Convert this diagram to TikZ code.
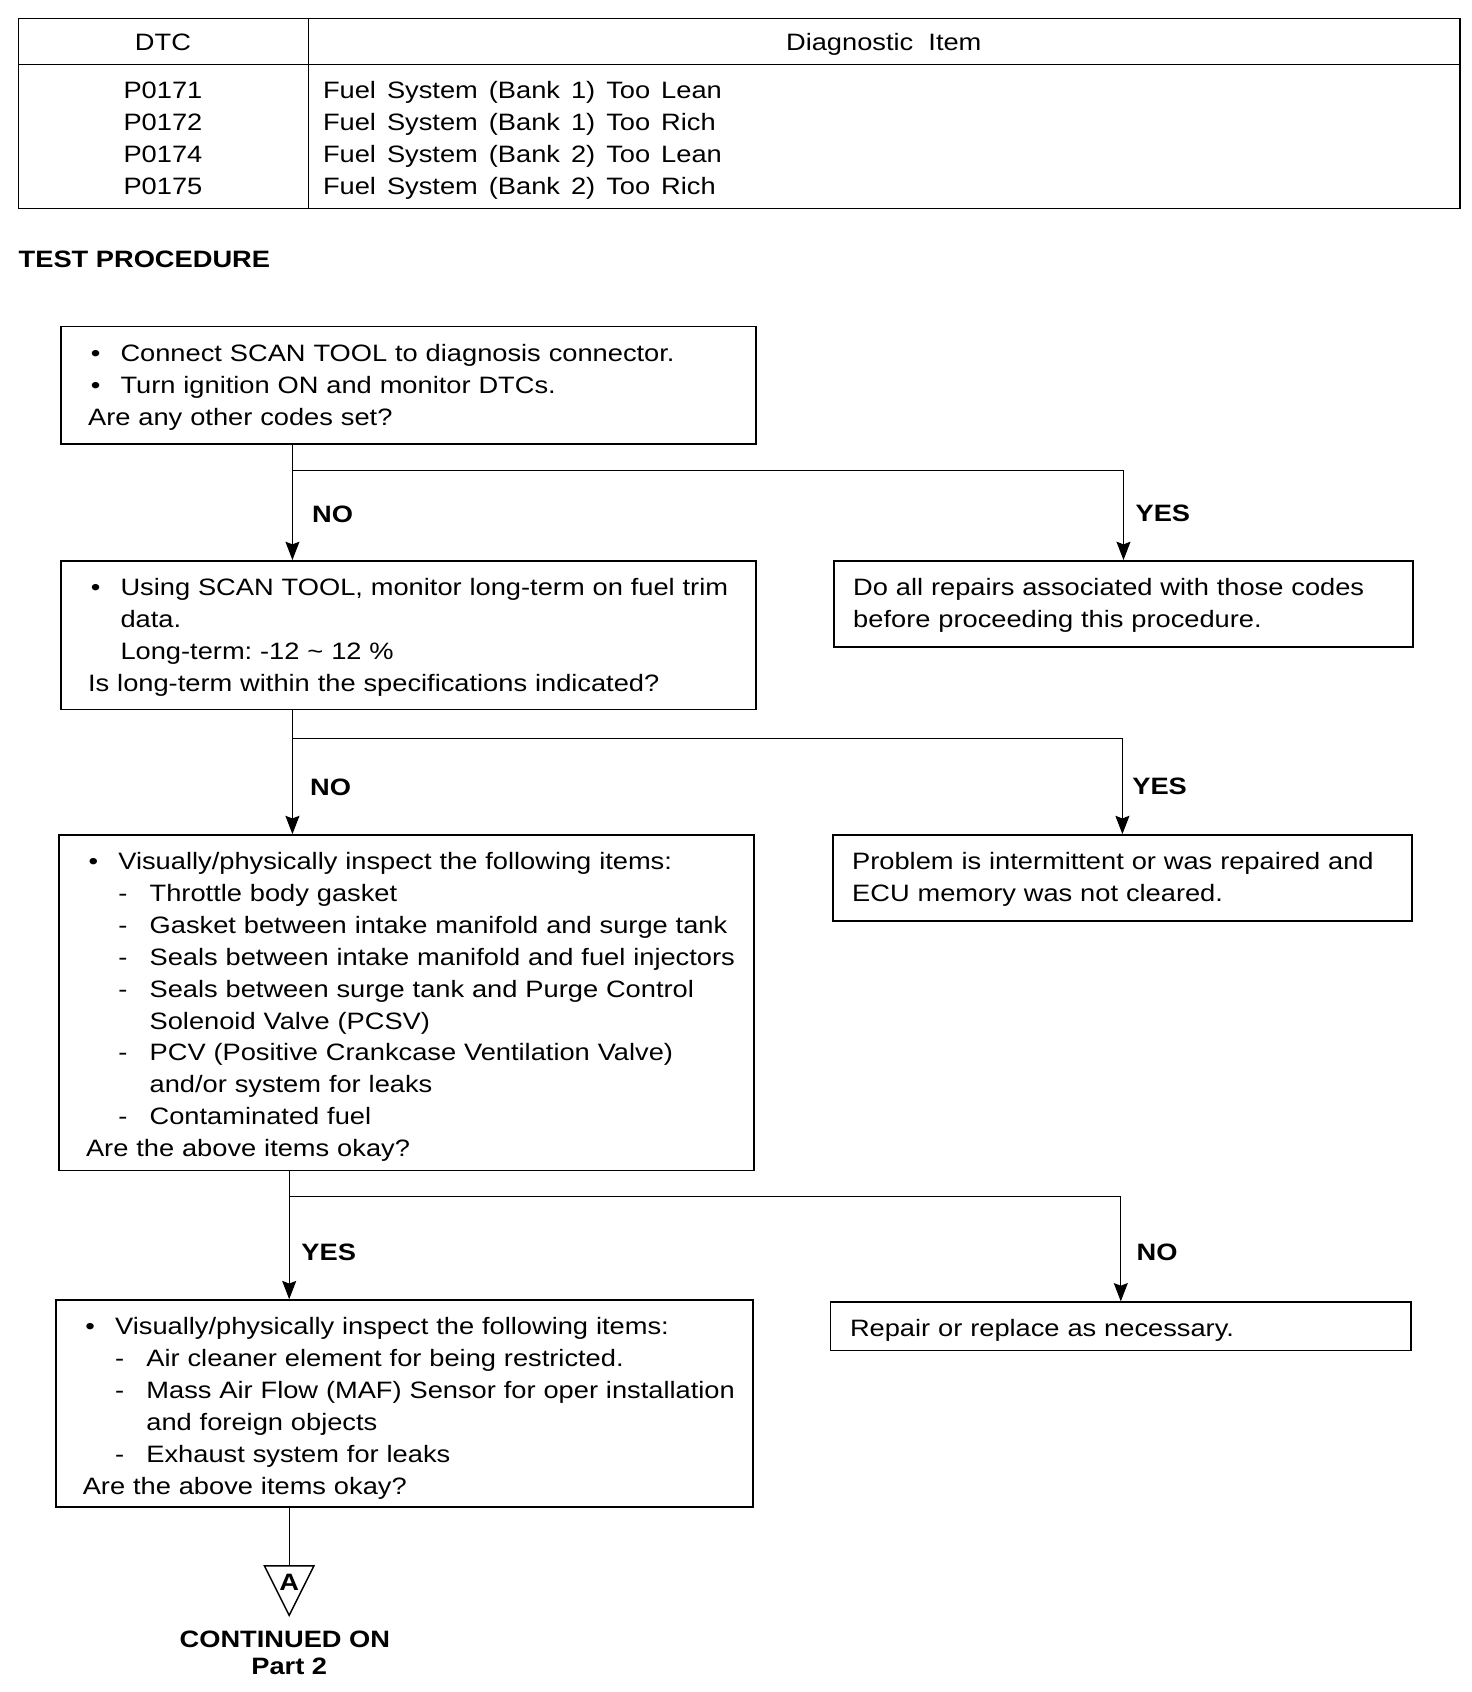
\documentclass[tikz,border=0pt]{standalone}
\usepackage{fontspec}
\setmainfont{Liberation Sans}[FakeStretch=1.15]
\usetikzlibrary{arrows.meta,positioning}
\frenchspacing
\newcommand{\bodyfont}{\fontsize{12.5}{16.84}\selectfont}
\newcommand{\widesp}{\spaceskip=5.8pt plus 1pt\relax}
\newcommand{\itm}[1]{\mbox{\makebox[0.6cm][l]{\hspace{0.05cm}\textbullet}#1}}
\newcommand{\subitm}[1]{\mbox{\hspace*{0.6cm}\makebox[0.58cm][l]{-}#1}}
\newcommand{\indA}[1]{\mbox{\hspace*{0.6cm}#1}}
\newcommand{\indB}[1]{\mbox{\hspace*{1.18cm}#1}}

\tikzset{
  flowbox/.style={draw, line width=0.8pt, anchor=north west, align=left,
    inner ysep=0.24cm, text height=0.40cm, font=\bodyfont},
  leftbox/.style={flowbox, inner xsep=0.5cm},
  rightbox/.style={flowbox, inner xsep=0.36cm},
  cell/.style={font=\bodyfont, inner sep=0},
  answer/.style={font=\bodyfont\bfseries, anchor=base west, inner sep=0},
  link/.style={line width=0.6pt},
  arr/.style={link, -{Stealth[length=0.34cm,width=0.26cm,inset=0.05cm]}},
}

\begin{document}
\begin{tikzpicture}[x=0.02cm, y=-0.02cm]
\useasboundingbox (0,0) rectangle (1364,1568);

% DTC table
\draw[line width=0.6pt] (17,17) rectangle (1353,193);
\draw[line width=0.6pt] (17,60) -- (1353,60);
\draw[line width=0.6pt] (286,17) -- (286,193);
\node[cell, anchor=base] (hdrcode) at (151,47) {DTC};
\node[cell, anchor=base] (hdritem) at (819,47) {Diagnostic\ \ Item};
\foreach \code/\desc [count=\i] in {P0171/{Fuel System (Bank 1) Too Lean},
    P0172/{Fuel System (Bank 1) Too Rich},
    P0174/{Fuel System (Bank 2) Too Lean},
    P0175/{Fuel System (Bank 2) Too Rich}} {
  \node[cell, anchor=base] (code\i) at (151,{91+29.7*(\i-1)}) {\code};
  \node[cell, anchor=base west] (diag\i) at (299,{91+29.7*(\i-1)}) {\widesp\desc};
}

\node[answer] (title) at (17,248) {TEST PROCEDURE};

% flow boxes
\node[leftbox, text width=11.88cm, text depth=1.30cm] (codes) at (56,302) {%
  \itm{Connect SCAN TOOL to diagnosis connector.}\\
  \itm{Turn ignition ON and monitor DTCs.}\\
  Are any other codes set?};
\node[leftbox, text width=11.88cm, text depth=1.88cm] (trim) at (56,519) {%
  \itm{Using SCAN TOOL, monitor long-term on fuel trim}\\
  \indA{data.}\\
  \indA{Long-term: -12 \textasciitilde\ 12 \%}\\
  \mbox{Is long-term within the specifications indicated?}};
\node[rightbox, text width=10.02cm, text depth=0.72cm] (repair) at (772,519) {%
  \mbox{Do all repairs associated with those codes}\\
  \mbox{before proceeding this procedure.}};
\node[leftbox, text width=11.88cm, text depth=5.34cm] (leaks) at (54,773) {%
  \itm{Visually/physically inspect the following items:}\\
  \subitm{Throttle body gasket}\\
  \subitm{Gasket between intake manifold and surge tank}\\
  \subitm{Seals between intake manifold and fuel injectors}\\
  \subitm{Seals between surge tank and Purge Control}\\
  \indB{Solenoid Valve (PCSV)}\\
  \subitm{PCV (Positive Crankcase Ventilation Valve)}\\
  \indB{and/or system for leaks}\\
  \subitm{Contaminated fuel}\\
  Are the above items okay?};
\node[rightbox, text width=10.02cm, text depth=0.72cm] (intermit) at (771,773) {%
  \mbox{Problem is intermittent or was repaired and}\\
  \mbox{ECU memory was not cleared.}};
\node[leftbox, text width=11.92cm, text depth=2.96cm] (intake) at (51,1204) {%
  \itm{Visually/physically inspect the following items:}\\
  \subitm{Air cleaner element for being restricted.}\\
  \subitm{Mass Air Flow (MAF) Sensor for oper installation}\\
  \indB{and foreign objects}\\
  \subitm{Exhaust system for leaks}\\
  Are the above items okay?};
\node[rightbox, text width=10.04cm, text depth=0.02cm] (fixit) at (769,1206) {%
  Repair or replace as necessary.};

% connectors
\coordinate (j1) at (271,436);
\draw[arr] (j1 |- codes.south) -- (j1 |- trim.north);
\draw[arr] (j1) -| (repair.north);
\node[answer] (no1) at (289,484) {NO};
\node[answer] (yes1) at (1052,483) {YES};

\coordinate (j2) at (271,684);
\draw[arr] (j2 |- trim.south) -- (j2 |- leaks.north);
\draw[arr] (j2) -| (intermit.north);
\node[answer] (no2) at (287,737) {NO};
\node[answer] (yes2) at (1049,736) {YES};

\coordinate (j3) at (268,1109);
\draw[arr] (j3 |- leaks.south) -- (j3 |- intake.north);
\draw[arr] (j3) -| (fixit.north);
\node[answer] (yes3) at (279,1168) {YES};
\node[answer] (no3) at (1053,1168) {NO};

% off-page mark
\coordinate (triTop) at (268,1451);
\draw[link] (triTop |- intake.south) -- (triTop);
\draw[line width=0.8pt] (245,1451) -- (291,1451) -- (268,1497) -- cycle;
\node[font=\bodyfont\bfseries, inner sep=0] (markA) at (268,1466) {A};
\node[answer, anchor=base] (cont) at (264,1527) {CONTINUED ON};
\node[answer, anchor=base] (part) at (268,1552) {Part 2};
\end{tikzpicture}
\end{document}
